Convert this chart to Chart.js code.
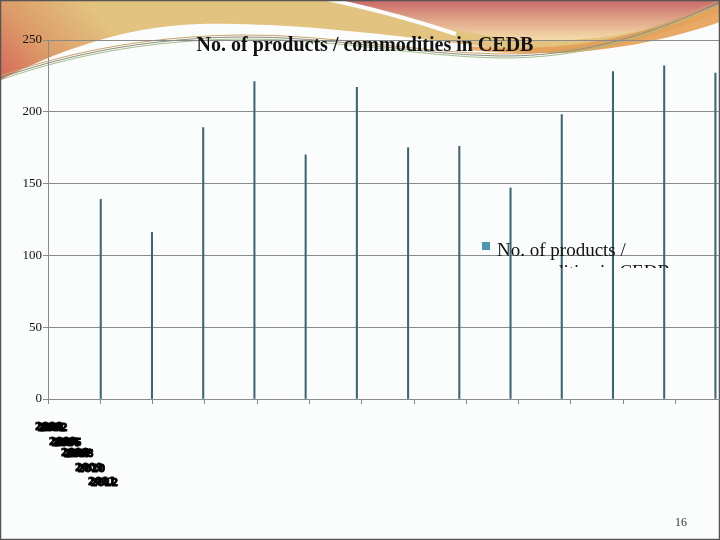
<!DOCTYPE html>
<html>
<head>
<meta charset="utf-8">
<script src="https://cdn.jsdelivr.net/npm/chart.js@4/dist/chart.umd.min.js"></script>
<style>
    html, body { margin: 0; padding: 0; background: #fbfcfc; }
    #wrap { width: 720px; height: 540px; position: relative; }
</style>
</head>
<body>
<div id="wrap"><canvas id="cedbChart" width="720" height="540"></canvas></div>
<script>
// Data
const categories = ['2000', '2001', '2002', '2003', '2004', '2005', '2006',
                    '2007', '2008', '2009', '2010', '2011', '2012'];
const productCounts = [139, 116, 189, 221, 170, 217, 175, 176, 147, 198, 228, 232, 227];
const yTicks = [0, 50, 100, 150, 200, 250];
const seriesName = 'No. of products / commodities in CEDB';
const chartTitle = 'No. of products / commodities in CEDB';
const pageNumber = '16';

// Slide background swooshes
const slideBackground = {
    id: 'slideBackground',
    beforeDraw(chart) {
        const c = chart.ctx;
        c.save();
        c.fillStyle = '#fbfcfc';
        c.fillRect(0, 0, 720, 540);

        // tan cap, reddish toward the bottom-left
        let g = c.createLinearGradient(90, 5, 0, 85);
        g.addColorStop(0, '#e2c37f');
        g.addColorStop(0.55, '#dc9a68');
        g.addColorStop(1, '#d5635a');
        c.fillStyle = g;
        c.beginPath();
        c.moveTo(0, 0);
        c.lineTo(720, 0);
        c.lineTo(720, 12);
        c.bezierCurveTo(650, 40, 590, 58, 530, 52);
        c.bezierCurveTo(450, 44, 320, 22, 200, 24);
        c.bezierCurveTo(120, 26, 50, 55, 0, 80);
        c.closePath();
        c.fill();

        // pink cap on the right
        g = c.createLinearGradient(0, 0, 0, 42);
        g.addColorStop(0, '#c86868');
        g.addColorStop(0.5, '#e2a98c');
        g.addColorStop(1, '#f6e2ae');
        c.fillStyle = g;
        c.beginPath();
        c.moveTo(330, 0);
        c.lineTo(720, 0);
        c.lineTo(720, 6);
        c.bezierCurveTo(660, 30, 600, 42, 540, 40);
        c.bezierCurveTo(470, 38, 400, 18, 330, 0);
        c.closePath();
        c.fill();

        // orange band
        c.fillStyle = 'rgba(229, 160, 86, 0.9)';
        c.beginPath();
        c.moveTo(470, 46);
        c.bezierCurveTo(560, 54, 640, 38, 720, 4);
        c.lineTo(720, 22);
        c.bezierCurveTo(650, 46, 570, 60, 470, 50);
        c.closePath();
        c.fill();

        // white stripe between tan and pink
        c.strokeStyle = '#fbfcfc';
        c.lineWidth = 4;
        c.beginPath();
        c.moveTo(322, -2);
        c.quadraticCurveTo(390, 12, 456, 34);
        c.stroke();

        // thin swoosh lines
        const lines = [['#c9a46a', -2], ['#8d8d80', 0], ['#a2bf8a', 2]];
        c.lineWidth = 1;
        lines.forEach(([col, d]) => {
            c.strokeStyle = col;
            c.beginPath();
            c.moveTo(0, 78 + d);
            c.bezierCurveTo(80, 50 + d, 160, 38 + d, 240, 37 + d);
            c.bezierCurveTo(330, 36 + d, 420, 55 + d, 500, 56 + d);
            c.bezierCurveTo(580, 57 + d, 650, 35 + d, 720, 2 + d);
            c.stroke();
        });

        // slide frame
        c.strokeStyle = '#555';
        c.lineWidth = 1.5;
        c.strokeRect(0.5, 0.5, 719, 539);
        c.restore();
    }
};

// Title, legend, crowded x labels, page number
const slideText = {
    id: 'slideText',
    afterDraw(chart) {
        const c = chart.ctx;
        c.save();
        c.fillStyle = '#111';
        c.textBaseline = 'alphabetic';

        c.font = 'bold 20px "Liberation Serif"';
        c.textAlign = 'center';
        c.fillText(chartTitle, 365, 51);

        // legend (second line cut off by its box)
        c.textAlign = 'left';
        c.fillStyle = '#4a98ae';
        c.fillRect(482, 242, 8, 8);
        c.fillStyle = '#111';
        c.font = '19px "Liberation Serif"';
        const parts = seriesName.split(' / ');
        c.fillText(parts[0] + ' /', 497, 256);
        c.beginPath();
        c.rect(470, 230, 250, 38);
        c.clip();
        c.fillText(parts[1], 497, 278);
        c.restore();

        // x labels crammed into the bottom-left corner
        c.save();
        c.fillStyle = '#000';
        c.strokeStyle = '#000';
        c.lineWidth = 0.9;
        c.font = 'bold 11px "DejaVu Sans Condensed"';
        c.textAlign = 'left';
        c.textBaseline = 'middle';
        const rows = [[35, 427], [49, 442], [61, 453], [75, 468], [88, 482]];
        const perRow = [3, 3, 3, 2, 2];
        let k = 0;
        rows.forEach(([x, y], r) => {
            for (let j = 0; j < perRow[r] && k < categories.length; j++, k++) {
                c.fillText(categories[k], x + j * 2.5, y + j * 0.8);
                c.strokeText(categories[k], x + j * 2.5, y + j * 0.8);
            }
        });

        c.fillStyle = '#333';
        c.font = '12px "Liberation Serif"';
        c.fillText(pageNumber, 675, 523);
        c.restore();
    }
};

new Chart(document.getElementById('cedbChart'), {
    type: 'bar',
    data: {
        datasets: [{
            label: seriesName,
            data: productCounts.map((v, i) => ({ x: i + 1, y: v })),
            backgroundColor: '#3d6675',
            barThickness: 1.4,
            clip: false
        }]
    },
    options: {
        responsive: false,
        animation: false,
        layout: { padding: { top: 40, right: 1, bottom: 0, left: 0 } },
        plugins: {
            legend: { display: false },
            title: { display: false },
            tooltip: { enabled: false }
        },
        scales: {
            x: {
                type: 'linear',
                display: false,
                offset: false,
                min: -0.03,
                max: 13.07
            },
            xt: {
                type: 'linear',
                position: 'bottom',
                min: 0,
                max: 12.83,
                offset: false,
                grid: { offset: false, drawOnChartArea: false, drawTicks: true, tickLength: 5, color: '#8a8a8a' },
                border: { display: true, color: '#8a8a8a' },
                ticks: { display: false, stepSize: 1, autoSkip: false, includeBounds: false },
                afterFit(scale) { scale.height = 141; }
            },
            y: {
                min: 0,
                max: 250,
                afterBuildTicks(scale) { scale.ticks = yTicks.map(v => ({ value: v })); },
                grid: { color: '#8a8a8a', lineWidth: 1, tickLength: 5 },
                border: { display: true, color: '#8a8a8a' },
                ticks: {
                    padding: 1,
                    color: '#111',
                    font: { family: '"Liberation Serif"', size: 13 }
                },
                afterFit(scale) { scale.width = 48; }
            }
        }
    },
    plugins: [slideBackground, slideText]
});
</script>
</body>
</html>
